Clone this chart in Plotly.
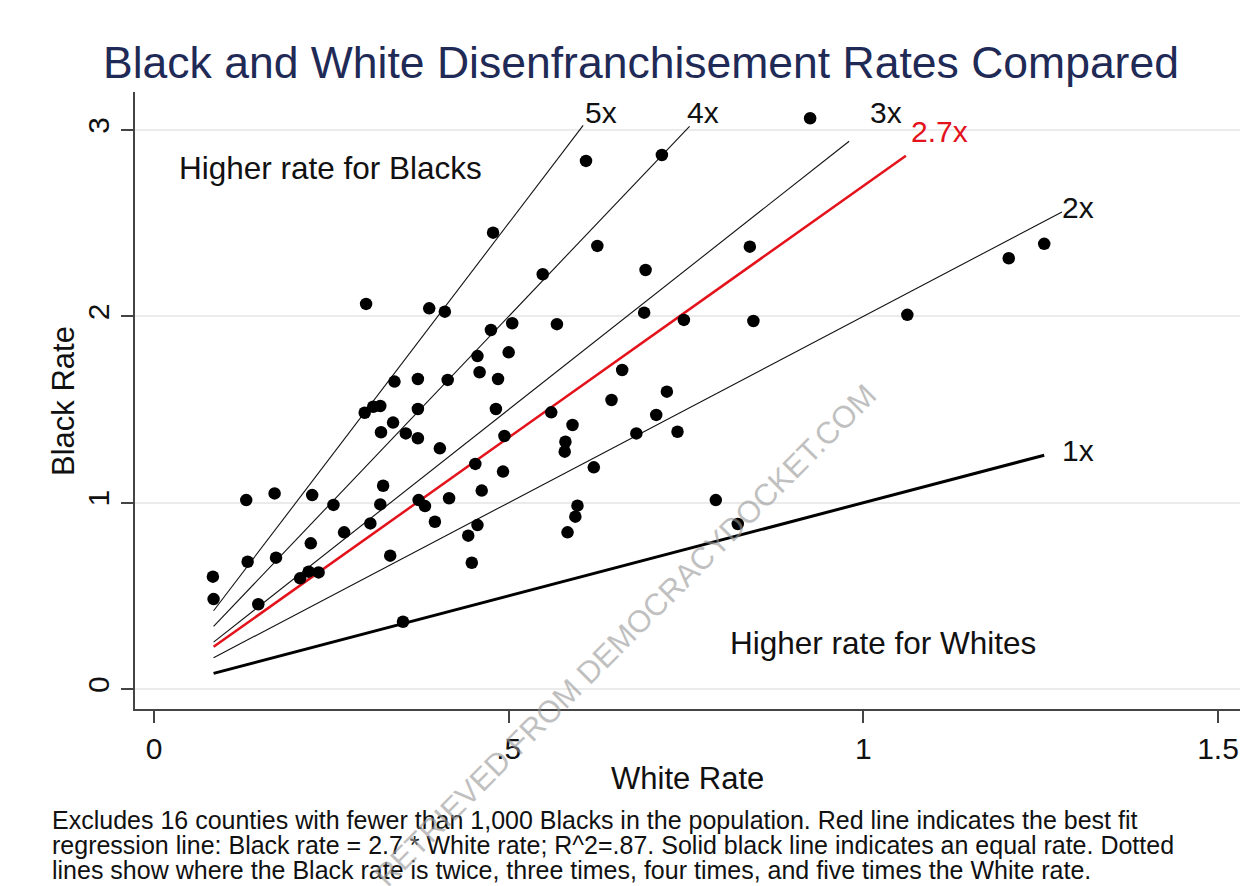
import plotly.graph_objects as go

# ---- data ----
white_rate = [0.083, 0.084, 0.130, 0.132, 0.147, 0.170, 0.172, 0.206, 0.218, 0.232,
              0.221, 0.223, 0.253, 0.268, 0.299, 0.297, 0.309, 0.319, 0.305, 0.319,
              0.323, 0.320, 0.333, 0.337, 0.339, 0.351, 0.355, 0.372, 0.372, 0.372,
              0.373, 0.382, 0.388, 0.396, 0.403, 0.410, 0.414, 0.416, 0.443, 0.448,
              0.453, 0.456, 0.456, 0.459, 0.462, 0.475, 0.478, 0.482, 0.485, 0.492,
              0.494, 0.500, 0.505, 0.548, 0.560, 0.568, 0.579, 0.580, 0.583, 0.590,
              0.594, 0.597, 0.609, 0.620, 0.625, 0.645, 0.660, 0.680, 0.691, 0.693,
              0.708, 0.716, 0.723, 0.738, 0.747, 0.792, 0.823, 0.840, 0.845, 0.925,
              1.062, 1.205, 1.255]
black_rate = [0.603, 0.483, 1.014, 0.683, 0.455, 1.050, 0.705, 0.594, 0.630, 0.626,
              0.782, 1.041, 0.988, 0.841, 2.067, 1.483, 1.515, 1.519, 0.889, 0.991,
              1.091, 1.378, 0.716, 1.430, 1.650, 0.361, 1.372, 1.346, 1.503, 1.664,
              1.014, 0.982, 2.043, 0.898, 1.292, 2.025, 1.659, 1.024, 0.823, 0.678,
              1.208, 0.880, 1.787, 1.700, 1.065, 1.927, 2.449, 1.503, 1.664, 1.167,
              1.358, 1.807, 1.963, 2.226, 1.485, 1.958, 1.274, 1.327, 0.841, 1.417,
              0.925, 0.984, 2.834, 1.190, 2.378, 1.551, 1.712, 1.372, 2.020, 2.249,
              1.471, 2.866, 1.596, 1.381, 1.981, 1.014, 0.886, 2.374, 1.975, 3.063,
              2.008, 2.312, 2.389]

ratio_multipliers = [5, 4, 3, 2]
ratio_labels = ["5x", "4x", "3x", "2x"]
ratio_line_start = 0.084
ratio_line_end = [0.605, 0.755, 0.98, 1.28]

equal_multiplier = 1
equal_label = "1x"
equal_line_end = 1.255

fit_slope = 2.7
fit_label = "2.7x"
fit_line_end = 1.06

x_tick_vals = [0, 0.5, 1, 1.5]
x_tick_text = ["0", ".5", "1", "1.5"]
y_tick_vals = [0, 1, 2, 3]
y_tick_text = ["0", "1", "2", "3"]

title_text = "Black and White Disenfranchisement Rates Compared"
caption_lines = [
    "Excludes 16 counties with fewer than 1,000 Blacks in the population. Red line indicates the best fit",
    "regression line: Black rate = 2.7 * White rate; R^2=.87. Solid black line indicates an equal rate. Dotted",
    "lines show where the Black rate is twice, three times, four times, and five times the White rate.",
]
watermark_text = "RETRIEVED FROM DEMOCRACYDOCKET.COM"

FONT = "Liberation Sans, Arial, Helvetica, sans-serif"

# page geometry (the page body has an 8px margin)
OFF = 8
FIG_W, FIG_H = 1248 - OFF, 886 - OFF
PL, PR, PT, PB = 135, 1240, 92, 709  # plot area in screenshot pixels


def paper_x(px):
    return (px - PL) / (PR - PL)


def paper_y(py):
    return (PB - py) / (PB - PT)


fig = go.Figure()

# reference ratio lines
for m, xe in zip(ratio_multipliers, ratio_line_end):
    fig.add_trace(go.Scatter(
        x=[ratio_line_start, xe], y=[m * ratio_line_start, m * xe],
        mode="lines", line=dict(color="#111111", width=1.1),
        hoverinfo="skip", showlegend=False))

# equal-rate line
fig.add_trace(go.Scatter(
    x=[ratio_line_start, equal_line_end],
    y=[equal_multiplier * ratio_line_start, equal_multiplier * equal_line_end],
    mode="lines", line=dict(color="#000000", width=3),
    hoverinfo="skip", showlegend=False))

# regression line
fig.add_trace(go.Scatter(
    x=[ratio_line_start, fit_line_end],
    y=[fit_slope * ratio_line_start, fit_slope * fit_line_end],
    mode="lines", line=dict(color="#e3121b", width=2.5),
    hoverinfo="skip", showlegend=False))

# counties
fig.add_trace(go.Scatter(
    x=white_rate, y=black_rate, mode="markers",
    marker=dict(color="#000000", size=12.5, line=dict(width=0)),
    showlegend=False))

annotations = []
label_pos = {
    "5x": (0.630, 3.092), "4x": (0.774, 3.092), "3x": (1.032, 3.092),
    "2x": (1.303, 2.582), "1x": (1.303, 1.278),
}
for lab in ratio_labels + [equal_label]:
    x, y = label_pos[lab]
    annotations.append(dict(x=x, y=y, xref="x", yref="y", text=lab, showarrow=False,
                            font=dict(family=FONT, size=30, color="#111111"),
                            xanchor="center", yanchor="middle"))
annotations.append(dict(x=1.108, y=2.99, xref="x", yref="y", text=fit_label, showarrow=False,
                        font=dict(family=FONT, size=30, color="#e3121b"),
                        xanchor="center", yanchor="middle"))
annotations.append(dict(x=0.2495, y=2.797, xref="x", yref="y", text="Higher rate for Blacks",
                        showarrow=False, font=dict(family=FONT, size=31.5, color="#111111"),
                        xanchor="center", yanchor="middle"))
annotations.append(dict(x=1.028, y=0.247, xref="x", yref="y", text="Higher rate for Whites",
                        showarrow=False, font=dict(family=FONT, size=31.5, color="#111111"),
                        xanchor="center", yanchor="middle"))

# axis titles
annotations.append(dict(x=paper_x(687), y=paper_y(778), xref="paper", yref="paper",
                        text="White Rate", showarrow=False,
                        font=dict(family=FONT, size=31, color="#111111"),
                        xanchor="center", yanchor="middle"))
annotations.append(dict(x=paper_x(63), y=paper_y(401), xref="paper", yref="paper",
                        text="Black Rate", showarrow=False, textangle=-90,
                        font=dict(family=FONT, size=31, color="#111111"),
                        xanchor="center", yanchor="middle"))

# caption lines
for i, line in enumerate(caption_lines):
    annotations.append(dict(x=paper_x(50), y=paper_y(820 + 25 * i),
                            xref="paper", yref="paper", text=line, showarrow=False,
                            font=dict(family=FONT, size=25, color="#111111"),
                            xanchor="left", yanchor="middle", align="left"))

# source watermark
annotations.append(dict(x=paper_x(625), y=paper_y(635), xref="paper", yref="paper",
                        text=watermark_text, showarrow=False, textangle=-45,
                        font=dict(family=FONT, size=31, color="rgba(150,150,150,0.6)"),
                        xanchor="center", yanchor="middle"))

fig.update_layout(
    width=FIG_W, height=FIG_H,
    paper_bgcolor="white", plot_bgcolor="white",
    margin=dict(l=PL - OFF, r=(FIG_W + OFF) - PR, t=PT - OFF, b=886 - PB),
    title=dict(text=title_text, x=(641 - OFF) / FIG_W, xanchor="center", xref="container",
               y=1 - (62 - OFF) / FIG_H, yanchor="middle", yref="container",
               font=dict(family=FONT, size=44.5, color="#1f2a56")),
    annotations=annotations,
    font=dict(family=FONT, color="#111111"),
)

fig.update_xaxes(
    range=[-0.0268, 1.531], tickvals=x_tick_vals, ticktext=x_tick_text,
    showgrid=False, zeroline=False, showline=True, linecolor="#444444", linewidth=1.5,
    ticks="outside", ticklen=12, tickcolor="#444444", tickwidth=1.5,
    tickfont=dict(family=FONT, size=30, color="#111111"), ticklabelstandoff=0,
)
fig.update_yaxes(
    range=[-0.107, 3.204], tickvals=y_tick_vals, ticktext=y_tick_text, tickangle=-90,
    showgrid=True, gridcolor="#ebebeb", gridwidth=1.5, zeroline=False,
    showline=True, linecolor="#444444", linewidth=1.5,
    ticks="outside", ticklen=12, tickcolor="#444444", tickwidth=1.5,
    tickfont=dict(family=FONT, size=30, color="#111111"), ticklabelstandoff=0,
)

fig.write_html("out.html")
